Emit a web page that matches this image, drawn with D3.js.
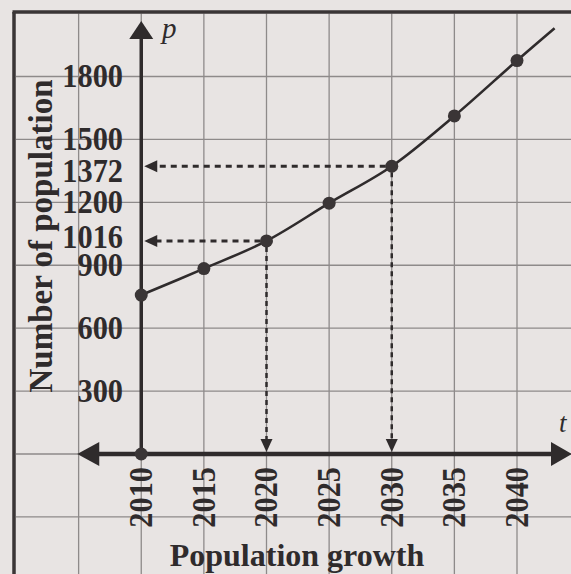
<!DOCTYPE html>
<html>
<head>
<meta charset="utf-8">
<script src="https://cdn.jsdelivr.net/npm/d3@7"></script>
<style>
  body { margin: 0; background: #e8e4e3; }
  svg { display: block; }
  text { font-family: "Liberation Serif", "Times New Roman", "DejaVu Serif", serif; fill: #2f2b2c; }
</style>
</head>
<body>
<svg id="chart" width="571" height="574"></svg>
<script>
// Population p (number) against year t
const years = [2010, 2015, 2020, 2025, 2030, 2035, 2040];
const population = [758, 884, 1016, 1196, 1372, 1612, 1876];
// the smooth curve keeps going a little past the last marked year
const curveTailYear = 2043;
const curveTailPop = 2030;

// values that get dashed read-off lines to both axes
const readYears = [2020, 2030];

// tick labels
const xTickYears = [2010, 2015, 2020, 2025, 2030, 2035, 2040];
const yTickValues = [300, 600, 900, 1016, 1200, 1372, 1500, 1800];

// graph-paper grid: one cell = 5 years by 300 people
const gridYears = [2005, 2010, 2015, 2020, 2025, 2030, 2035, 2040, 2045];
const gridPops = [-600, -300, 0, 300, 600, 900, 1200, 1500, 1800];
const frameYear = 2000;
const framePop = 2100;

const ink = "#2f2b2c";
const gridColor = "#8e8a8a";

const svg = d3.select("#chart");
const W = 571, H = 574;

const x = d3.scaleLinear().domain([2000, 2040]).range([16, 517]);
const y = d3.scaleLinear().domain([0, 1800]).range([454, 76.5]);

// grid
const grid = svg.append("g").attr("stroke", gridColor).attr("stroke-width", 1.3);
grid.selectAll("line.v").data(gridYears).join("line")
  .attr("class", "v")
  .attr("x1", d => x(d)).attr("x2", d => x(d))
  .attr("y1", y(framePop)).attr("y2", H);
grid.selectAll("line.h").data(gridPops).join("line")
  .attr("class", "h")
  .attr("x1", x(frameYear)).attr("x2", W)
  .attr("y1", d => y(d)).attr("y2", d => y(d));

// frame of the graph paper
const frame = svg.append("g").attr("stroke", "#3a3536").attr("stroke-width", 3.5);
frame.append("line")
  .attr("x1", x(frameYear) - 2).attr("x2", x(frameYear) - 2)
  .attr("y1", y(framePop) - 1.5).attr("y2", H);
frame.append("line")
  .attr("x1", x(frameYear) - 3.5).attr("x2", W)
  .attr("y1", y(framePop) - 1.5).attr("y2", y(framePop) - 1.5);

// axes
const ox = x(2010), oy = y(0);
const axes = svg.append("g").attr("stroke", ink).attr("fill", ink);
axes.append("line")
  .attr("x1", ox - 50).attr("x2", W - 12)
  .attr("y1", oy).attr("y2", oy)
  .attr("stroke-width", 4.5);
axes.append("line")
  .attr("x1", ox).attr("x2", ox)
  .attr("y1", oy).attr("y2", 32)
  .attr("stroke-width", 3.5);
// arrowheads of the axes
const tri = pts => "M" + pts.map(p => p.join(",")).join("L") + "Z";
axes.append("path").attr("stroke", "none")
  .attr("d", tri([[ox, 21], [ox - 12, 39], [ox + 12, 39]]));
axes.append("path").attr("stroke", "none")
  .attr("d", tri([[ox - 64, oy], [ox - 42, oy - 12], [ox - 42, oy + 12]]));
axes.append("path").attr("stroke", "none")
  .attr("d", tri([[W + 1, oy], [W - 20, oy - 12], [W - 20, oy + 12]]));

// dashed read-off lines with small arrowheads on the axes
const readG = svg.append("g");
readYears.forEach(yr => {
  const p = population[years.indexOf(yr)];
  const px = x(yr), py = y(p);
  readG.append("line")
    .attr("x1", px - 6).attr("x2", ox + 14)
    .attr("y1", py).attr("y2", py)
    .attr("stroke", ink).attr("stroke-width", 3)
    .attr("stroke-dasharray", "6,5");
  readG.append("line")
    .attr("x1", px).attr("x2", px)
    .attr("y1", py + 6).attr("y2", oy - 14)
    .attr("stroke", ink).attr("stroke-width", 2.5)
    .attr("stroke-dasharray", "5,4");
  readG.append("path").attr("fill", ink)
    .attr("d", tri([[ox + 3, py], [ox + 16, py - 6], [ox + 16, py + 6]]));
  readG.append("path").attr("fill", ink)
    .attr("d", tri([[px, oy - 2], [px - 6, oy - 15], [px + 6, oy - 15]]));
});

// population curve
const curveData = years.map((t, i) => [t, population[i]]).concat([[curveTailYear, curveTailPop]]);
const line = d3.line()
  .x(d => x(d[0])).y(d => y(d[1]))
  .curve(d3.curveCatmullRom.alpha(0.5));
svg.append("path")
  .datum(curveData)
  .attr("d", line)
  .attr("fill", "none")
  .attr("stroke", ink)
  .attr("stroke-width", 2.6);

// data points, plus the dot at the origin
svg.append("g").selectAll("circle")
  .data(years.map((t, i) => [t, population[i]]).concat([[2010, 0]]))
  .join("circle")
  .attr("cx", d => x(d[0])).attr("cy", d => y(d[1]))
  .attr("r", 6.5)
  .attr("fill", "#3a3536");

// y tick labels (narrow bold digits; the crowded pair is nudged apart)
const labelNudge = { 1372: 5, 1016: -4 };
svg.append("g").selectAll("text")
  .data(yTickValues).join("text")
  .attr("transform", d => `translate(123,${y(d) + (labelNudge[d] || 0)}) scale(0.92,1)`)
  .attr("text-anchor", "end")
  .attr("dominant-baseline", "central")
  .attr("font-size", 33)
  .attr("font-weight", "bold")
  .text(d => d);

// x tick labels, written upward
svg.append("g").selectAll("text")
  .data(xTickYears).join("text")
  .attr("transform", d => `translate(${x(d)},${oy + 13}) rotate(-90) scale(0.92,1)`)
  .attr("text-anchor", "end")
  .attr("dominant-baseline", "central")
  .attr("font-size", 33)
  .attr("font-weight", "bold")
  .text(d => d);

// axis letters
svg.append("text")
  .attr("x", 162).attr("y", 38)
  .attr("font-size", 29).attr("font-style", "italic")
  .text("p");
svg.append("text")
  .attr("x", 559).attr("y", 432)
  .attr("font-size", 27).attr("font-style", "italic")
  .text("t");

// axis titles
svg.append("text")
  .attr("transform", "translate(41,236) rotate(-90)")
  .attr("text-anchor", "middle")
  .attr("dominant-baseline", "central")
  .attr("font-size", 33)
  .attr("font-weight", "bold")
  .text("Number of population");
svg.append("text")
  .attr("x", 297).attr("y", 566)
  .attr("text-anchor", "middle")
  .attr("font-size", 32)
  .attr("font-weight", "bold")
  .text("Population growth");
</script>
</body>
</html>
